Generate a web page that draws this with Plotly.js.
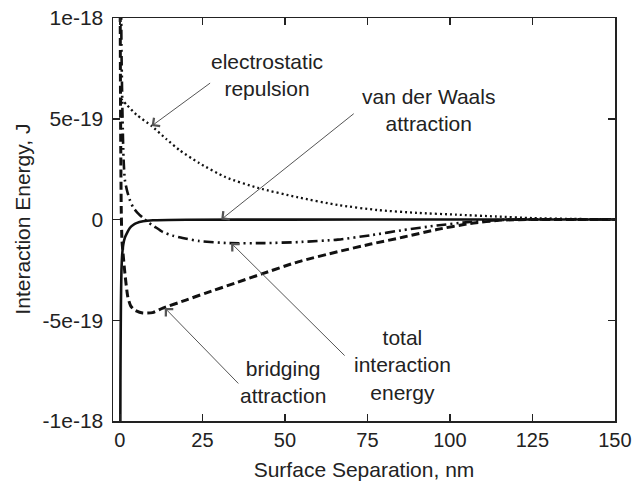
<!DOCTYPE html>
<html>
<head>
<meta charset="utf-8">
<script src="https://cdn.plot.ly/plotly-3.0.1.min.js"></script>
<style>
  html, body { margin: 0; padding: 0; background: #fff; }
  #chart { width: 633px; height: 487px; }
</style>
</head>
<body>
<div id="chart"></div>
<script>
// Surface separation (nm) and interaction energy (J) for each contribution
const elecX = [0.3, 2, 5, 9.6, 14, 18, 24, 32, 42, 54, 66, 78, 90, 102, 114, 125, 137, 150];
const elecY = [6.0e-19, 5.7e-19, 5.2e-19, 4.64e-19, 4.0e-19, 3.45e-19, 2.8e-19, 2.1e-19, 1.56e-19,
               1.1e-19, 0.72e-19, 0.47e-19, 0.33e-19, 0.24e-19, 0.15e-19, 0.07e-19, 0.03e-19, 0.01e-19];

const vdwX = [0.1, 0.15, 0.2, 0.3, 0.45, 0.7, 1.0, 1.5, 2.2, 3, 4, 5, 7, 10, 20, 50, 100, 150];
const vdwY = [-1.2e-18, -8.0e-19, -6.5e-19, -4.2e-19, -2.6e-19, -1.7e-19, -1.25e-19, -0.9e-19, -0.65e-19,
              -0.42e-19, -0.27e-19, -0.18e-19, -0.09e-19, -0.04e-19, -0.015e-19, -0.005e-19, -0.002e-19, -0.001e-19];

const bridgeX = [0.05, 0.15, 0.25, 0.4, 0.6, 0.9, 1.5, 2.4, 3.3, 4.5, 6.9, 9.9, 13, 20, 26, 35, 43, 54,
                 66, 76, 86, 96, 106, 116, 125, 150];
const bridgeY = [1.2e-18, 7.0e-19, 3.5e-19, 0.5e-19, -1.0e-19, -1.6e-19, -2.66e-19, -3.85e-19, -4.3e-19,
                 -4.5e-19, -4.64e-19, -4.62e-19, -4.4e-19, -4.0e-19, -3.65e-19, -3.15e-19, -2.7e-19, -2.1e-19,
                 -1.6e-19, -1.22e-19, -0.87e-19, -0.5e-19, -0.2e-19, -0.03e-19, 0, 0];

const totalX = [0.3, 0.5, 0.8, 1.1, 1.5, 2.2, 3.0, 4, 5.4, 7, 8.4, 10.5, 13, 16, 19, 24, 33, 44, 54,
                66, 76, 86, 96, 106, 116, 125, 150];
const totalY = [1.2e-18, 8.0e-19, 5.0e-19, 3.0e-19, 1.96e-19, 1.4e-19, 0.97e-19, 0.6e-19, 0.32e-19, 0.08e-19,
                -0.12e-19, -0.35e-19, -0.62e-19, -0.8e-19, -0.92e-19, -1.07e-19, -1.17e-19, -1.17e-19, -1.12e-19,
                -1.0e-19, -0.78e-19, -0.52e-19, -0.3e-19, -0.12e-19, -0.02e-19, 0, 0];

const xTicks = [0, 25, 50, 75, 100, 125, 150];
const yTicks = [1e-18, 5e-19, 0, -5e-19, -1e-18];
const yTickText = ['1e-18', '5e-19', '0', '-5e-19', '-1e-18'];

const FONT = '"Liberation Sans", Arial, Helvetica, sans-serif';
const INK = '#222';
const FS = 21;

const traces = [
  { name: 'electrostatic repulsion', x: elecX, y: elecY, mode: 'lines',
    line: { color: '#111', width: 2.3, dash: '2px,3px', shape: 'spline', smoothing: 0.6 } },
  { name: 'van der Waals attraction', x: vdwX, y: vdwY, mode: 'lines',
    line: { color: '#111', width: 2.6, shape: 'spline', smoothing: 0.6 } },
  { name: 'bridging attraction', x: bridgeX, y: bridgeY, mode: 'lines',
    line: { color: '#111', width: 3, dash: '8px,4px', shape: 'spline', smoothing: 0.6 } },
  { name: 'total interaction energy', x: totalX, y: totalY, mode: 'lines',
    line: { color: '#111', width: 2.6, dash: '10px,4px,2px,4px,2px,4px', shape: 'spline', smoothing: 0.6 } }
];

// Arrow from a label towards a curve: head at (x, y), tail offset in pixels
function pointer(x, y, ax, ay) {
  return { x: x, y: y, xref: 'x', yref: 'y', text: '', showarrow: true,
           ax: ax, ay: ay, arrowhead: 4, arrowsize: 2, arrowwidth: 1,
           arrowcolor: '#555', standoff: 0, startstandoff: 0 };
}
function label(x, y, text) {
  return { x: x, y: y, xref: 'x', yref: 'y', text: text, showarrow: false,
           xanchor: 'center', yanchor: 'middle', align: 'center',
           font: { family: FONT, size: FS, color: INK } };
}

const layout = {
  width: 633, height: 487,
  margin: { l: 113, r: 18, t: 18, b: 66 },
  paper_bgcolor: '#fff', plot_bgcolor: '#fff',
  showlegend: false,
  font: { family: FONT, size: FS, color: INK },
  xaxis: {
    range: [-2.1, 150.02], tickvals: xTicks, ticks: 'inside', ticklen: 7, tickwidth: 1.5,
    tickcolor: INK, showline: true, linecolor: INK, linewidth: 1.5, mirror: 'ticks',
    showgrid: false, zeroline: false, ticklabeloverflow: 'allow',
    tickfont: { family: FONT, size: 20, color: INK },
    title: { text: 'Surface Separation, nm', font: { family: FONT, size: FS, color: INK }, standoff: 13 }
  },
  yaxis: {
    range: [-1e-18, 1e-18], tickvals: yTicks, ticktext: yTickText, ticks: 'inside', ticklen: 7, tickwidth: 1.5,
    tickcolor: INK, showline: true, linecolor: INK, linewidth: 1.5, mirror: 'ticks',
    showgrid: false, zeroline: false, ticklabelstandoff: 4,
    tickfont: { family: FONT, size: FS, color: INK }
  },
  annotations: [
    // vertical axis title, placed beside the tick labels
    { text: 'Interaction Energy, J', xref: 'paper', yref: 'paper', x: -0.181, y: 0.5,
      xanchor: 'center', yanchor: 'middle', textangle: -90, showarrow: false,
      font: { family: FONT, size: FS, color: INK } },
    label(44.6, 7.17e-19, 'electrostatic<br>repulsion'),
    label(93.4, 5.41e-19, 'van der Waals<br>attraction'),
    label(85.5, -7.22e-19, 'total<br>interaction<br>energy'),
    label(49.4, -8.04e-19, 'bridging<br>attraction'),
    pointer(9.6, 4.64e-19, 60, -44),
    pointer(30.7, 0, 134, -107),
    pointer(33.7, -1.17e-19, 115, 114),
    pointer(13.6, -4.39e-19, 75, 77)
  ]
};

Plotly.newPlot('chart', traces, layout, { displayModeBar: false, staticPlot: true });
</script>
</body>
</html>
